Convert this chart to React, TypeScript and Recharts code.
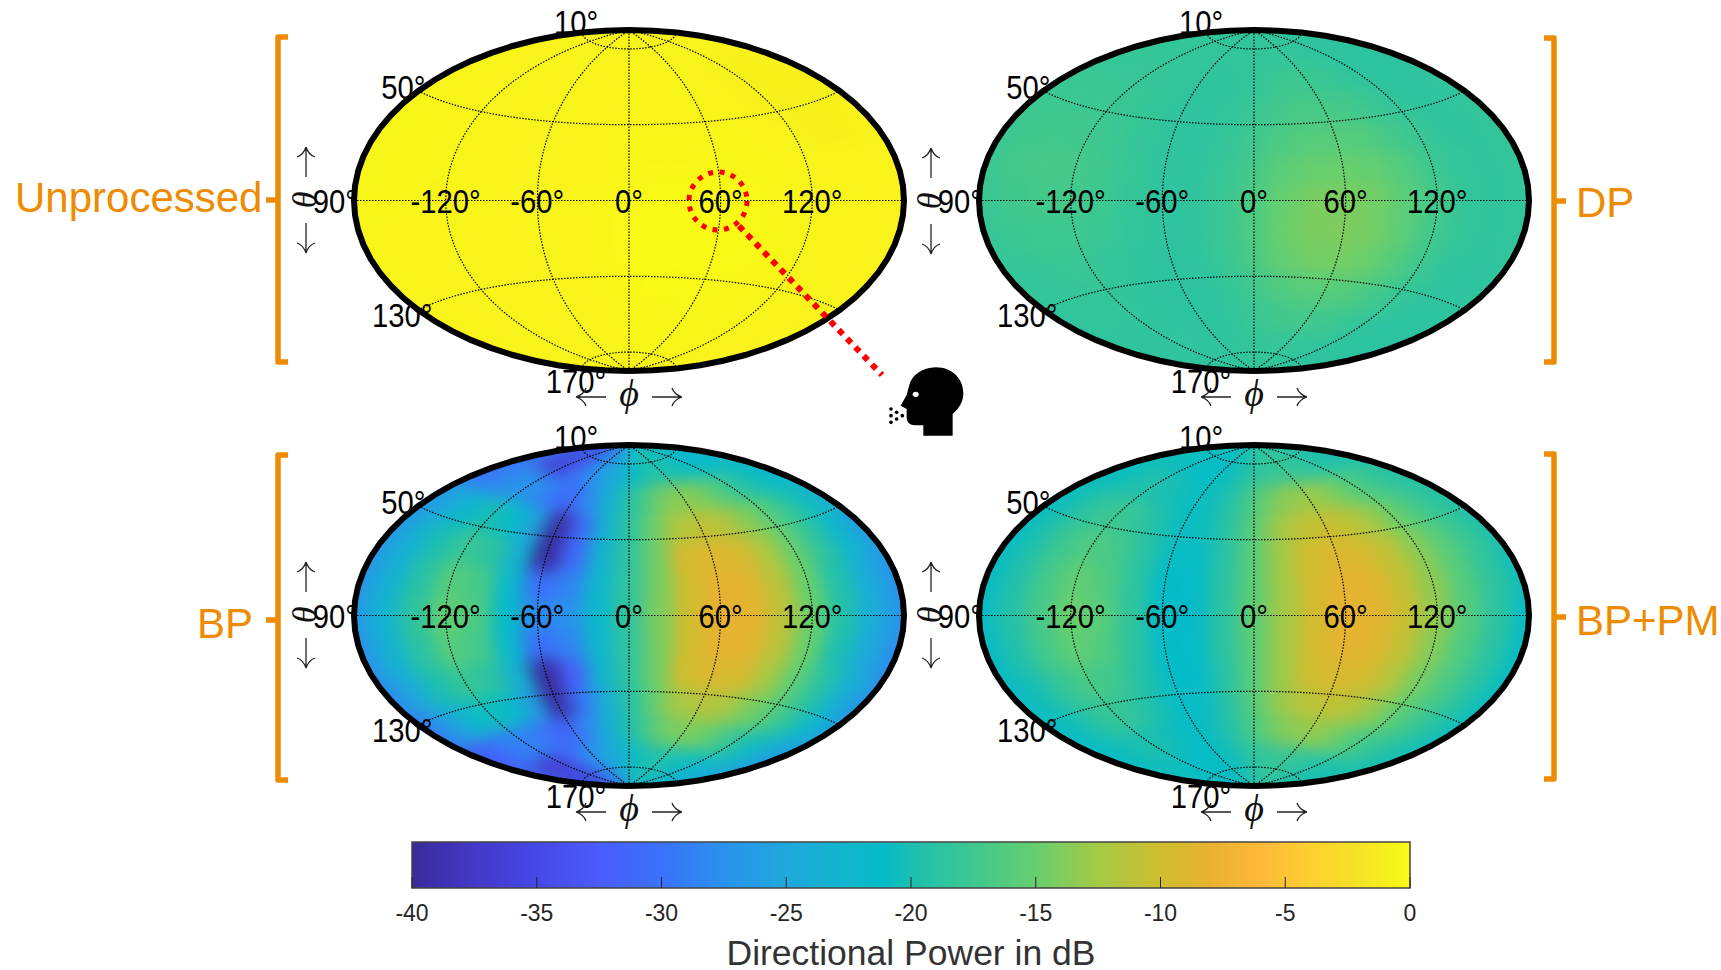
import React from 'react'
import { ScatterChart, Scatter, XAxis, YAxis, ComposedChart, ReferenceArea, Line } from 'recharts'

const LONS = [-180, -160, -140, -120, -100, -80, -60, -40, -20, 0, 20, 40, 60, 80, 100, 120, 140, 160, 180]
const LATS = [75, 60, 45, 30, 15, 0, -15, -30, -45, -60, -75]

const UNPROCESSED_DB = [
  [-0.7, -0.7, -0.7, -0.7, -0.7, -0.7, -0.7, -0.7, -0.7, -0.7, -0.7, -0.7, -0.7, -0.7, -0.7, -0.7, -0.7, -0.7, -0.7],
  [-0.7, -0.7, -0.7, -0.7, -0.7, -0.7, -0.7, -0.7, -0.7, -0.6, -0.6, -0.6, -0.6, -0.7, -0.7, -0.8, -0.8, -0.8, -0.8],
  [-0.6, -0.6, -0.6, -0.6, -0.7, -0.7, -0.7, -0.7, -0.7, -0.6, -0.6, -0.6, -0.6, -0.6, -0.7, -0.8, -0.8, -0.8, -0.8],
  [-0.5, -0.5, -0.5, -0.6, -0.6, -0.7, -0.7, -0.7, -0.6, -0.5, -0.5, -0.5, -0.5, -0.5, -0.6, -0.7, -0.8, -0.8, -0.7],
  [-0.5, -0.5, -0.5, -0.5, -0.6, -0.7, -0.7, -0.7, -0.6, -0.4, -0.3, -0.3, -0.3, -0.4, -0.5, -0.7, -0.7, -0.7, -0.7],
  [-0.5, -0.5, -0.5, -0.6, -0.6, -0.7, -0.7, -0.7, -0.5, -0.3, -0.1, -0.1, -0.1, -0.2, -0.5, -0.7, -0.7, -0.7, -0.7],
  [-0.6, -0.6, -0.6, -0.6, -0.7, -0.7, -0.7, -0.7, -0.5, -0.2, -0.1, -0.1, -0.1, -0.2, -0.4, -0.6, -0.7, -0.7, -0.7],
  [-0.6, -0.6, -0.6, -0.7, -0.7, -0.7, -0.7, -0.7, -0.5, -0.2, -0.1, -0.1, -0.1, -0.2, -0.4, -0.6, -0.7, -0.7, -0.7],
  [-0.7, -0.7, -0.7, -0.7, -0.7, -0.7, -0.7, -0.7, -0.5, -0.3, -0.2, -0.2, -0.2, -0.3, -0.4, -0.6, -0.7, -0.7, -0.7],
  [-0.7, -0.7, -0.7, -0.7, -0.7, -0.7, -0.7, -0.7, -0.6, -0.4, -0.4, -0.3, -0.3, -0.4, -0.5, -0.6, -0.7, -0.7, -0.7],
  [-0.7, -0.7, -0.7, -0.7, -0.7, -0.7, -0.7, -0.7, -0.6, -0.6, -0.5, -0.5, -0.5, -0.5, -0.6, -0.7, -0.7, -0.7, -0.7],
]

const DP_DB = [
  [-18.3, -18.3, -18.3, -18.3, -18.3, -18.3, -18.4, -18.4, -18.4, -18.4, -18.3, -18.2, -18.2, -18.3, -18.5, -18.7, -18.8, -18.7, -18.5],
  [-18.1, -18.1, -18.1, -18.1, -18.2, -18.3, -18.5, -18.6, -18.5, -18.2, -17.8, -17.5, -17.5, -17.8, -18.2, -18.7, -18.9, -18.8, -18.5],
  [-17.9, -17.8, -17.8, -17.8, -18, -18.3, -18.6, -18.7, -18.4, -17.8, -17.2, -16.8, -16.8, -17.1, -17.7, -18.3, -18.7, -18.7, -18.3],
  [-17.7, -17.4, -17.3, -17.4, -17.7, -18.2, -18.6, -18.7, -18.2, -17.4, -16.5, -16, -15.9, -16.2, -17, -17.9, -18.5, -18.5, -18.2],
  [-17.8, -17.2, -17, -17.1, -17.5, -18.1, -18.6, -18.6, -18, -17, -15.6, -15, -14.9, -15.2, -16.2, -17.6, -18.4, -18.5, -18.2],
  [-18, -17.4, -17.2, -17.2, -17.6, -18.2, -18.6, -18.5, -17.9, -16.6, -15, -14.2, -14.1, -14.5, -15.8, -17.3, -18.3, -18.5, -18.3],
  [-18.2, -17.8, -17.6, -17.6, -17.9, -18.4, -18.7, -18.5, -17.8, -16.5, -14.9, -14.1, -14, -14.4, -15.7, -17.3, -18.3, -18.6, -18.4],
  [-18.4, -18.2, -18, -18, -18.3, -18.6, -18.8, -18.6, -17.9, -16.7, -15.2, -14.5, -14.4, -14.8, -16.1, -17.6, -18.5, -18.7, -18.5],
  [-18.5, -18.4, -18.3, -18.3, -18.5, -18.7, -18.8, -18.7, -18.2, -17.3, -16.4, -15.9, -15.8, -16.2, -17, -18, -18.6, -18.8, -18.6],
  [-18.6, -18.5, -18.5, -18.5, -18.6, -18.7, -18.8, -18.7, -18.4, -17.9, -17.4, -17.1, -17.1, -17.4, -17.9, -18.4, -18.8, -18.9, -18.7],
  [-18.5, -18.5, -18.5, -18.5, -18.5, -18.6, -18.6, -18.5, -18.4, -18.2, -18.1, -18.1, -18.1, -18.2, -18.4, -18.6, -18.8, -18.8, -18.7],
]

const BP_DB = [
  [-27, -31, -37, -37, -32, -28.5, -27, -25.5, -24, -22, -20.5, -19.5, -19.5, -20, -20.5, -21, -21.5, -22, -23],
  [-31, -29, -27.5, -27, -28, -30, -31, -27, -23, -19.5, -16.3, -14, -13.5, -14, -16, -18, -19.5, -21, -23],
  [-27.5, -24.5, -21.8, -20, -21, -25.5, -40, -31, -23.5, -19, -14.8, -12, -11, -11.5, -13.5, -15.5, -18, -20.5, -24],
  [-27, -23.5, -20, -17.8, -18.8, -23.5, -40, -31, -23, -18.7, -14.5, -9.5, -9, -9.3, -12, -15, -18.5, -22.5, -26.5],
  [-27, -23.5, -19.2, -16, -17, -22, -30.5, -28.5, -22.5, -18.5, -14.2, -10, -8.2, -8.5, -11.3, -15, -19.5, -24, -27.5],
  [-27, -23, -18.5, -15.3, -16.5, -21, -28, -27.5, -22, -18.5, -14, -9.8, -8, -8.2, -11, -15, -19.5, -24, -27.5],
  [-27.5, -23.5, -19, -16, -17.2, -22, -30.5, -28.5, -22.5, -18.5, -14.2, -10, -8.2, -8.5, -11.3, -15, -20, -24.5, -28],
  [-28.5, -24.5, -20, -18, -19, -23.5, -40, -32, -23, -18.7, -14.5, -9.8, -9.1, -9.5, -12.3, -15.5, -19, -23.5, -27.5],
  [-30, -26, -22.5, -20.5, -21.5, -26, -40, -30, -24, -19.5, -15.3, -12.5, -11.5, -12, -14, -16, -18.5, -22, -26.5],
  [-34, -31, -29, -28.5, -29, -31, -31, -27.5, -23.5, -20, -16.8, -14.5, -14, -14.5, -16.5, -18.5, -20.5, -23.5, -28],
  [-29, -34, -38, -37, -32, -28.5, -27, -25.5, -24, -22, -20.5, -19.5, -19.5, -20, -20.5, -21.5, -22.5, -24, -26],
]

const BPPM_DB = [
  [-20.5, -20.5, -20.5, -20.7, -20.9, -21, -20.9, -20.5, -19.7, -18.8, -18.2, -17.9, -17.9, -18.2, -18.6, -19, -19.4, -19.8, -20.2],
  [-21, -20.5, -19.8, -19.5, -20, -20.5, -20.8, -20.3, -18.8, -16.5, -14.3, -13.2, -12.8, -13.2, -14.8, -16.2, -17.4, -18.7, -19.8],
  [-21, -20, -18.3, -17.6, -18.3, -19.8, -20.8, -20.5, -18.7, -15.8, -12.7, -11, -10.3, -10.8, -12.5, -14.6, -16.5, -18.3, -19.8],
  [-21, -19.7, -17.5, -16.4, -17.2, -19, -20.8, -20.9, -18.9, -15.6, -12.6, -9.8, -9, -9.4, -11.1, -13.6, -15.8, -18, -20],
  [-21, -19.6, -17.2, -15.3, -16.3, -18.7, -21, -21.1, -19, -15.6, -12.5, -9.8, -8.2, -8.6, -10.7, -13.4, -16, -18.5, -20.5],
  [-21, -19.5, -17, -14.8, -15.8, -18.5, -21, -21.2, -18.9, -15.5, -12.5, -9.7, -8, -8.3, -10.5, -13.3, -16.2, -18.8, -21],
  [-21.2, -19.7, -17.2, -15.4, -16.4, -18.8, -21, -21.1, -18.9, -15.6, -12.5, -9.8, -8.2, -8.7, -10.8, -13.8, -16.5, -19, -21],
  [-21.5, -20.2, -18, -16.8, -17.6, -19.4, -21, -21, -19, -15.7, -12.8, -10, -9.2, -9.6, -11.7, -14.4, -16.7, -19, -21],
  [-21.5, -20.5, -18.8, -18, -18.6, -20.1, -21, -20.7, -18.8, -15.9, -13.2, -11.4, -10.7, -11.2, -13, -15.2, -17.2, -19.2, -20.8],
  [-21.3, -20.7, -20, -19.7, -20.2, -20.8, -21, -20.3, -18.9, -16.6, -14.7, -13.5, -13.2, -13.6, -15.3, -16.8, -18, -19.6, -20.6],
  [-20.6, -20.6, -20.6, -20.8, -21, -21, -20.8, -20.4, -19.7, -18.8, -18.3, -18, -18, -18.4, -18.8, -19.2, -19.7, -20.1, -20.5],
]

const COLOR_DB = [-40, -37.5, -35, -32.5, -30, -27.5, -25, -22.5, -21, -20, -17.5, -15, -12.5, -10, -8, -6, -4, -2, 0]
const COLOR_HEX = ['#3b2a9c', '#4438c8', '#4648e6', '#4a5cfb', '#3a72fb', '#2a92ec', '#1fa8dc', '#0fb7cc', '#04bcc8', '#1cbfb0', '#3ec890', '#66cf6e', '#a4c945', '#cfbd2e', '#e8b230', '#ffb83a', '#fcd02f', '#f5e325', '#f9fb15']

const MERIDIANS = [-120, -60, 0, 60, 120]
const PARALLELS = [80, 40, 0, -40, -80]
const LON_LABELS = [-120, -60, 0, 60, 120]
const THETA_LABELS = [10, 50, 90, 130, 170]
const COLORBAR_TICKS = [-40, -35, -30, -25, -20, -15, -10, -5, 0]

const RX = 275
const RY = 170.5
const PAD = { left: 50, right: 50, top: 40, bottom: 60 }
const ORANGE = '#ee8b00'
const FONT = '"Liberation Sans", Arial, sans-serif'
const SERIF = '"Liberation Serif", "DejaVu Serif", serif'

// label nudge from the map edge, px
const THETA_NUDGE: Record<number, [number, number]> = { 10: [17, -11], 50: [7, -4], 90: [3, 0], 130: [14, 5], 170: [25, 12.5] }

function aitoff(lonDeg: number, latDeg: number) {
  const lon = (lonDeg * Math.PI) / 180
  const lat = (latDeg * Math.PI) / 180
  const alpha = Math.acos(Math.cos(lat) * Math.cos(lon / 2))
  const sinc = alpha < 1e-6 ? 1 : Math.sin(alpha) / alpha
  return { x: (2 * Math.cos(lat) * Math.sin(lon / 2)) / sinc, y: Math.sin(lat) / sinc }
}

function colorOf(db: number) {
  let i = 0
  while (i < COLOR_DB.length - 2 && db > COLOR_DB[i + 1]) i++
  const t = Math.min(1, Math.max(0, (db - COLOR_DB[i]) / (COLOR_DB[i + 1] - COLOR_DB[i])))
  const ch = (hex: string, k: number) => parseInt(hex.slice(1 + k * 2, 3 + k * 2), 16)
  const mix = [0, 1, 2].map((k) => Math.round(ch(COLOR_HEX[i], k) * (1 - t) + ch(COLOR_HEX[i + 1], k) * t))
  return `rgb(${mix.join(',')})`
}

const toPoints = (pairs: number[][]) => pairs.map(([lon, lat]) => ({ lon, lat, ...aitoff(lon, lat) }))

function sweep(from: number, to: number) {
  const out: number[] = []
  const step = from < to ? 5 : -5
  for (let v = from; from < to ? v <= to : v >= to; v += step) out.push(v)
  return out
}

const outlinePoints = toPoints([...sweep(-90, 90).map((lat) => [-180, lat]), ...sweep(90, -90).map((lat) => [180, lat])])

function HeatCell(props: any) {
  const { cx, cy, payload } = props
  const lon0 = Math.max(payload.lon - 10, -180)
  const lon1 = Math.min(payload.lon + 10, 180)
  const lat0 = payload.lat === -75 ? -90 : payload.lat - 7.5
  const lat1 = payload.lat === 75 ? 90 : payload.lat + 7.5
  const ring: number[][] = []
  for (let k = 0; k < 4; k++) ring.push([lon0 + ((lon1 - lon0) * k) / 4, lat0])
  for (let k = 0; k < 4; k++) ring.push([lon1, lat0 + ((lat1 - lat0) * k) / 4])
  for (let k = 0; k < 4; k++) ring.push([lon1 - ((lon1 - lon0) * k) / 4, lat1])
  for (let k = 0; k < 4; k++) ring.push([lon0, lat1 - ((lat1 - lat0) * k) / 4])
  const d = ring
    .map(([lo, la], k) => {
      const p = aitoff(lo, la)
      const px = cx + ((p.x - payload.x) * RX) / Math.PI
      const py = cy - ((p.y - payload.y) * RY) / (Math.PI / 2)
      return `${k ? 'L' : 'M'}${px.toFixed(1)} ${py.toFixed(1)}`
    })
    .join('')
  const fill = colorOf(payload.db)
  return <path d={d + 'Z'} fill={fill} stroke={fill} strokeWidth={1} />
}

const NoDot = () => null

// the figure's tick text is a narrow, tall Helvetica
function MapText({ x, y, anchor, children }: { x: number; y: number; anchor: 'middle' | 'end'; children: React.ReactNode }) {
  return (
    <text transform={`translate(${x} ${y}) scale(0.86 1)`} textAnchor={anchor} fontFamily={FONT} fontSize={34} fill="#000">
      {children}
    </text>
  )
}

function LonLabel(props: any) {
  return <MapText x={props.cx} y={props.cy + 12} anchor="middle">{props.payload.label}°</MapText>
}

function ThetaLabel(props: any) {
  const [dx, dy] = THETA_NUDGE[props.payload.label]
  return <MapText x={props.cx + dx} y={props.cy + dy + 12} anchor="end">{props.payload.label}°</MapText>
}

function Panel({ id, cx, cy, rows }: { id: string; cx: number; cy: number; rows: number[][] }) {
  const width = RX * 2 + PAD.left + PAD.right
  const height = RY * 2 + PAD.top + PAD.bottom
  const cells = LATS.flatMap((lat, r) => LONS.map((lon, c) => ({ lon, lat, db: rows[r][c], ...aitoff(lon, lat) })))
  const lonLabels = LON_LABELS.map((label) => ({ label, ...aitoff(label, 0) }))
  const thetaLabels = THETA_LABELS.map((label) => ({ label, ...aitoff(-180, 90 - label) }))
  const gridLine = { stroke: '#000', strokeWidth: 1.2, strokeDasharray: '1.5 1.5' }
  return (
    <div style={{ position: 'absolute', left: cx - RX - PAD.left, top: cy - RY - PAD.top }}>
      <style>{`.heat-${id}{filter:url(#soft-${id});clip-path:url(#clip-${id})}`}</style>
      <ScatterChart width={width} height={height} margin={PAD}>
        <defs>
          <filter id={`soft-${id}`} filterUnits="userSpaceOnUse" x={0} y={0} width={width} height={height} colorInterpolationFilters="sRGB">
            <feGaussianBlur stdDeviation="9 8" />
            <feComponentTransfer>
              <feFuncA type="linear" slope={40} />
            </feComponentTransfer>
          </filter>
          <clipPath id={`clip-${id}`}>
            <ellipse cx={PAD.left + RX} cy={PAD.top + RY} rx={RX} ry={RY} />
          </clipPath>
        </defs>
        <XAxis type="number" dataKey="x" domain={[-Math.PI, Math.PI]} hide />
        <YAxis type="number" dataKey="y" domain={[-Math.PI / 2, Math.PI / 2]} hide />
        <Scatter className={`heat-${id}`} data={cells} shape={HeatCell} isAnimationActive={false} />
        {MERIDIANS.map((lon) => (
          <Scatter key={`m${lon}`} data={toPoints(sweep(-90, 90).map((lat) => [lon, lat]))} shape={NoDot} line={gridLine} isAnimationActive={false} />
        ))}
        {PARALLELS.map((lat) => (
          <Scatter key={`p${lat}`} data={toPoints(sweep(-180, 180).map((lon) => [lon, lat]))} shape={NoDot} line={gridLine} isAnimationActive={false} />
        ))}
        <Scatter data={lonLabels} shape={LonLabel} isAnimationActive={false} />
        <Scatter data={thetaLabels} shape={ThetaLabel} isAnimationActive={false} />
        <Scatter data={outlinePoints} shape={NoDot} line={{ stroke: '#000', strokeWidth: 6 }} isAnimationActive={false} />
      </ScatterChart>
    </div>
  )
}

function Colorbar() {
  const stops = COLOR_DB.map((db, i) => ({ offset: `${((db + 40) / 40) * 100}%`, color: COLOR_HEX[i] }))
  const tickRows = COLORBAR_TICKS.map((v) => ({ v, level: 0.5 }))
  return (
    <div style={{ position: 'absolute', left: 362, top: 832 }}>
      <ComposedChart width={1098} height={138} data={tickRows} margin={{ left: 50, right: 50, top: 10, bottom: 0 }}>
        <defs>
          <linearGradient id="parula" x1="0" y1="0" x2="1" y2="0">
            {stops.map((s) => (
              <stop key={s.offset} offset={s.offset} stopColor={s.color} />
            ))}
          </linearGradient>
        </defs>
        <ReferenceArea x1={-40} x2={0} y1={0} y2={1} fill="url(#parula)" fillOpacity={1} stroke="#444" strokeWidth={1.5} ifOverflow="visible" />
        <Line dataKey="level" stroke="none" dot={false} legendType="none" isAnimationActive={false} />
        <XAxis
          type="number"
          dataKey="v"
          domain={[-40, 0]}
          ticks={COLORBAR_TICKS}
          height={82}
          axisLine={false}
          tick={{ fontFamily: FONT, fontSize: 23, fill: '#262626' }}
          tickLine={{ stroke: '#262626', strokeWidth: 1 }}
          tickSize={-11}
          tickMargin={28}
          interval={0}
        />
        <YAxis type="number" dataKey="level" domain={[0, 1]} hide />
      </ComposedChart>
    </div>
  )
}

function Bracket({ x, y0, y1, stub, dir }: { x: number; y0: number; y1: number; stub: number; dir: 1 | -1 }) {
  return (
    <path
      d={`M${x + dir * 10} ${y0}H${x}V${y1}H${x + dir * 10}M${x} ${stub}H${x - dir * 12}`}
      fill="none"
      stroke={ORANGE}
      strokeWidth={5.5}
      strokeLinejoin="round"
    />
  )
}

// long thin axis arrows with a curved head, pointing left and right from the symbol
const AXIS_ARROWS =
  'M-53 0H-23M-53 0C-47 -2 -44 -6 -43 -9M-53 0C-47 2 -44 6 -43 9M53 0H23M53 0C47 -2 44 -6 43 -9M53 0C47 2 44 6 43 9'

function Overlay() {
  const text = { fontFamily: FONT, fontSize: 42, fill: ORANGE }
  const thetaAt: [number, number][] = [
    [306, 200],
    [931, 201],
    [306, 615],
    [931, 615],
  ]
  const phiAt: [number, number][] = [
    [629, 397],
    [1254, 397],
    [629, 812],
    [1254, 812],
  ]
  return (
    <svg width={1721} height={970} style={{ position: 'absolute', left: 0, top: 0 }}>
      <Bracket x={278} y0={37} y1={362} stub={200} dir={1} />
      <Bracket x={278} y0={455} y1={780} stub={620} dir={1} />
      <Bracket x={1554} y0={38} y1={362} stub={201} dir={-1} />
      <Bracket x={1554} y0={454} y1={779} stub={617} dir={-1} />
      <text x={15} y={212} {...text}>Unprocessed</text>
      <text x={197} y={638} {...text}>BP</text>
      <text x={1576} y={217} {...text}>DP</text>
      <text x={1576} y={635} {...text}>BP+PM</text>
      {thetaAt.map(([x, y]) => (
        <g key={`t${x}${y}`} transform={`translate(${x} ${y}) rotate(-90)`}>
          <path d={AXIS_ARROWS} fill="none" stroke="#222" strokeWidth={1.3} />
          <text x={0} y={10} textAnchor="middle" fontFamily={SERIF} fontStyle="italic" fontSize={34} fill="#111">θ</text>
        </g>
      ))}
      {phiAt.map(([x, y]) => (
        <g key={`f${x}${y}`} transform={`translate(${x} ${y})`}>
          <path d={AXIS_ARROWS} fill="none" stroke="#222" strokeWidth={1.3} />
          <text x={0} y={9} textAnchor="middle" fontFamily={SERIF} fontStyle="italic" fontSize={38} fill="#111">ϕ</text>
        </g>
      ))}
      <circle cx={718} cy={201} r={29} fill="none" stroke="#f00" strokeWidth={5} strokeDasharray="5 6.5" />
      <path d="M739 226L882 375" stroke="#f00" strokeWidth={6} strokeDasharray="6 6" fill="none" />
      <g transform="translate(860 340) scale(0.3333)">
        <path
          d="M190 287H278V222C298 205 310 185 310 160C310 115 275 82 228 82C185 82 155 108 148 135C144 150 142 158 140 165L122 197L140 207V232C140 248 150 256 165 256H190Z"
          fill="#000"
        />
        <ellipse cx={167} cy={163} rx={9} ry={8} fill="#fff" />
        {[[93, 207], [110, 217], [127, 227], [93, 227], [110, 237], [93, 247]].map(([x, y]) => (
          <circle key={`${x}-${y}`} cx={x} cy={y} r={5.5} fill="#000" />
        ))}
      </g>
      <text x={911} y={965} textAnchor="middle" fontFamily={FONT} fontSize={35.5} fill="#333">Directional Power in dB</text>
    </svg>
  )
}

export default function App() {
  return (
    <div style={{ position: 'absolute', left: 0, top: 0, width: 1721, height: 970, overflow: 'hidden', background: '#fff' }}>
      <Panel id="raw" cx={629} cy={200.7} rows={UNPROCESSED_DB} />
      <Panel id="dp" cx={1254} cy={200.7} rows={DP_DB} />
      <Panel id="bp" cx={629} cy={615.5} rows={BP_DB} />
      <Panel id="bppm" cx={1254} cy={615.5} rows={BPPM_DB} />
      <Colorbar />
      <Overlay />
    </div>
  )
}
